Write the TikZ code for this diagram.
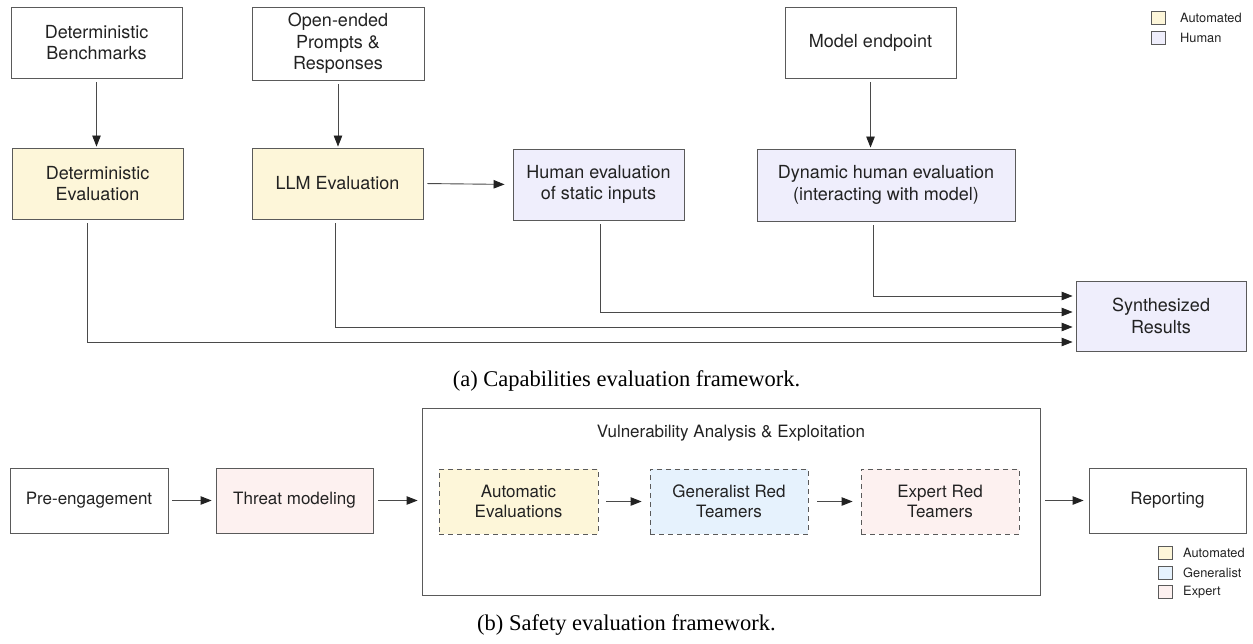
\documentclass[tikz,border=0pt]{standalone}
\usepackage{fontspec}
\setmainfont{TeX Gyre Heros}
\newfontfamily\capfont{Liberation Serif}
\usetikzlibrary{arrows.meta,calc}

\definecolor{autofill}{HTML}{FDF6D9}
\definecolor{humanfill}{HTML}{EFEEFC}
\definecolor{genfill}{HTML}{E6F2FD}
\definecolor{expfill}{HTML}{FDF1F0}
\definecolor{edge}{HTML}{5A5A5A}
\definecolor{wire}{HTML}{4A4A4A}
\definecolor{ink}{HTML}{222222}

\begin{document}
\begin{tikzpicture}[x=1pt,y=-1pt,
  box/.style={draw=edge, line width=0.9pt, align=center, inner sep=0pt, text=ink,
              font=\fontsize{18}{21.5}\selectfont},
  sbox/.style={box, font=\fontsize{17}{20.5}\selectfont},
  dbox/.style={sbox, dash pattern=on 5pt off 4pt},
  conn/.style={draw=wire, line width=0.9pt,
               -{Triangle[length=11pt,width=8.5pt,color=ink]}},
  legsq/.style={draw=edge, line width=0.7pt, minimum width=14pt, minimum height=13pt, inner sep=0pt},
  legtxt/.style={anchor=west, inner sep=0pt, text=ink, font=\fontsize{12.8}{15}\selectfont},
  caption/.style={inner sep=0pt, font=\capfont\fontsize{22.5}{26}\selectfont}]

\useasboundingbox (0,0) rectangle (1253,644);

% ---------- (a) capabilities evaluation ----------
\node[box, minimum width=171pt, minimum height=71pt] (bench) at (96.5,42.5) {Deterministic\\Benchmarks};
\node[box, minimum width=172pt, minimum height=73pt] (open)  at (338,43.5) {Open-ended\\Prompts \&\\Responses};
\node[box, minimum width=171pt, minimum height=71pt] (model) at (870.5,42.5) {Model endpoint};

\node[box, fill=autofill, minimum width=171pt, minimum height=71pt] (deteval) at (97.5,183.5) {Deterministic\\Evaluation};
\node[box, fill=autofill, minimum width=171pt, minimum height=71pt] (llm) at (337.5,183.5) {LLM Evaluation};
\node[box, fill=humanfill, minimum width=171pt, minimum height=71pt] (human) at (598.5,184.5) {Human evaluation\\of static inputs};
\node[box, fill=humanfill, minimum width=258pt, minimum height=72pt] (dyn) at (886,185) {Dynamic human evaluation\\(interacting with model)};
\node[box, fill=humanfill, minimum width=170pt, minimum height=70pt] (synth) at (1161,316) {Synthesized\\Results};

\draw[conn, shorten <=4pt, shorten >=1pt] (bench.south) -- (bench.south |- deteval.north);
\draw[conn, shorten <=4pt, shorten >=1pt] (open.south) -- (open.south |- llm.north);
\draw[conn, shorten <=4pt, shorten >=1pt] (model.south) -- (model.south |- dyn.north);
\draw[conn, shorten <=4pt, shorten >=8pt] (llm.east) -- (human.west);

\draw[conn, shorten >=3pt] ([xshift=-13pt,yshift=-4pt]dyn.south) |- ([yshift=20pt]synth.west);
\draw[conn, shorten >=3pt] ([xshift=1.5pt,yshift=-4pt]human.south) |- ([yshift=4pt]synth.west);
\draw[conn, shorten >=3pt] ([xshift=-2.5pt,yshift=-4pt]llm.south) |- ([yshift=-11pt]synth.west);
\draw[conn, shorten >=3pt] ([xshift=-10.5pt,yshift=-4pt]deteval.south) |- ([yshift=-26pt]synth.west);

% legend (a)
\node[legsq, fill=autofill] (lsqa1) at (1158.5,18) {};
\node[legsq, fill=humanfill] (lsqa2) at (1158.5,38) {};
\node[legtxt] (ltxa1) at (1180,18) {Automated};
\node[legtxt] (ltxa2) at (1180,38) {Human};

\node[caption] (capa) at (626.5,381) {(a) Capabilities evaluation framework.};

% ---------- (b) safety evaluation ----------
\node[sbox, minimum width=158pt, minimum height=65pt] (pre) at (89,500.5) {Pre-engagement};
\node[sbox, fill=expfill, minimum width=157pt, minimum height=65pt] (threat) at (294.5,500.5) {Threat modeling};
\node[box, minimum width=618pt, minimum height=187pt] (vuln) at (731,501.5) {};
\node[inner sep=0pt, text=ink, font=\fontsize{17}{20}\selectfont] (vtitle) at (731,433) {Vulnerability Analysis \& Exploitation};
\node[dbox, fill=autofill, minimum width=159pt, minimum height=65pt] (auto) at (518.5,501.5) {Automatic\\Evaluations};
\node[dbox, fill=genfill, minimum width=158pt, minimum height=65pt] (gen) at (729,501.5) {Generalist Red\\Teamers};
\node[dbox, fill=expfill, minimum width=158pt, minimum height=65pt] (expert) at (940,501.5) {Expert Red\\Teamers};
\node[sbox, minimum width=157pt, minimum height=65pt] (report) at (1167.5,500.5) {Reporting};

\draw[conn, shorten <=4pt, shorten >=4pt] (pre.east) -- (threat.west);
\draw[conn, shorten <=5pt, shorten >=4pt] (threat.east) -- (threat.east -| vuln.west);
\draw[conn, shorten <=8pt, shorten >=8pt] (auto.east) -- (gen.west);
\draw[conn, shorten <=9pt, shorten >=8pt] (gen.east) -- (expert.west);
\draw[conn, shorten <=5pt, shorten >=5pt] (vuln.east |- report.west) -- (report.west);

% legend (b)
\node[legsq, fill=autofill] (lsqb1) at (1165,553) {};
\node[legsq, fill=genfill] (lsqb2) at (1165,573) {};
\node[legsq, fill=expfill] (lsqb3) at (1165,592) {};
\node[legtxt] (ltxb1) at (1183,553) {Automated};
\node[legtxt] (ltxb2) at (1183,573) {Generalist};
\node[legtxt] (ltxb3) at (1183,592) {Expert};

\node[caption] (capb) at (626.5,625) {(b) Safety evaluation framework.};
\end{tikzpicture}
\end{document}
